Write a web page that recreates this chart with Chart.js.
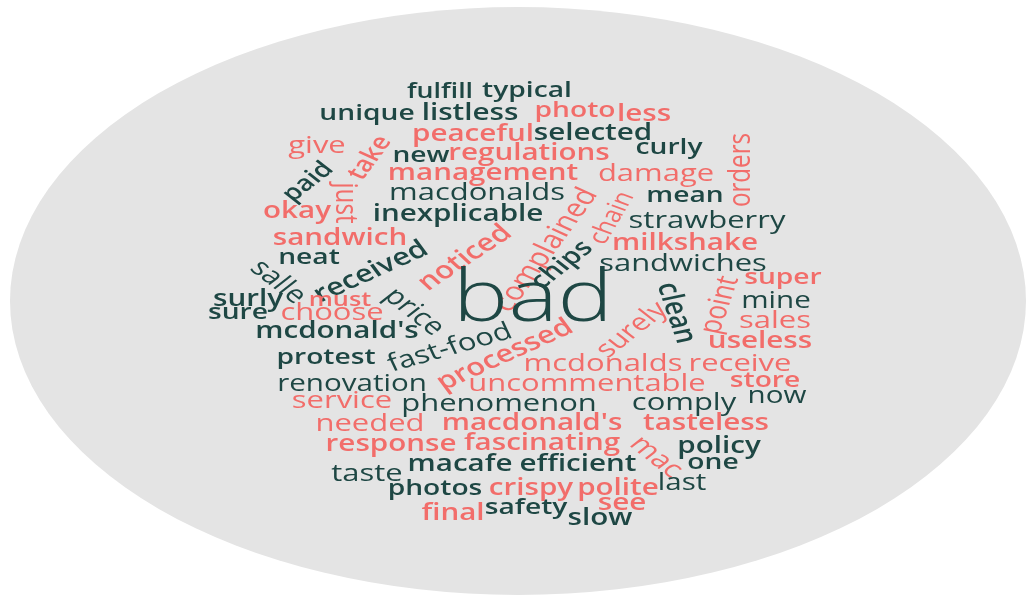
<!DOCTYPE html>
<html lang="en">
<head>
<meta charset="UTF-8">
<title>Word cloud</title>
<script src="https://cdn.jsdelivr.net/npm/chart.js@4.4.1/dist/chart.umd.min.js"></script>
<style>
    body { margin: 0; background: #ffffff; }
    #wrap { width: 1026px; height: 604px; }
</style>
</head>
<body>
<div id="wrap"><canvas id="cloud" width="1026" height="604"></canvas></div>

<script>
// words of the cloud
const words = [
    'fulfill', 'typical', 'unique', 'listless', 'photo', 'less', 'peaceful', 'selected',
    'give', 'take', 'new', 'regulations', 'curly', 'orders', 'paid', 'just',
    'management', 'damage', 'macdonalds', 'mean', 'okay', 'inexplicable', 'complained', 'chain',
    'strawberry', 'sandwich', 'milkshake', 'neat', 'received', 'noticed', 'chips', 'sandwiches',
    'salle', 'super', 'bad', 'surly', 'must', 'price', 'clean', 'point',
    'mine', 'sure', 'choose', 'surely', 'sales', "mcdonald's", 'fast-food', 'processed',
    'useless', 'protest', 'mcdonalds', 'receive', 'renovation', 'uncommentable', 'store', 'now',
    'service', 'phenomenon', 'comply', 'needed', "macdonald's", 'tasteless', 'response', 'fascinating',
    'mac', 'policy', 'taste', 'macafe', 'efficient', 'one', 'photos', 'crispy',
    'polite', 'last', 'final', 'safety', 'see', 'slow'
];

// placement of each word in the cloud (x, y)
const wordX = [
    440, 527, 367, 470, 575, 644, 473, 593,
    317, 370, 421, 529, 669, 741, 308, 345,
    483, 656, 477, 685, 297, 458, 546, 612,
    707, 340, 685, 309, 371, 465, 562, 683,
    278, 783, 533, 248, 340, 414, 676, 720,
    776, 238, 332, 632, 775, 337, 450, 505,
    760, 326, 603, 740, 352, 587, 765, 777,
    342, 499, 684, 370, 532, 706, 391, 542,
    656, 719, 367, 460, 578, 713, 435, 531,
    618, 682, 453, 526, 622, 600
];
const wordY = [
    92, 91, 114, 113, 111, 114, 134, 133,
    146, 158, 156, 153, 148, 170, 182, 203,
    173, 174, 193, 196, 211, 214, 250, 218,
    221, 238, 243, 258, 272, 258, 265, 264,
    282, 278, 300, 299, 300, 312, 313, 305,
    301, 313, 313, 330, 321, 331, 348, 355,
    341, 358, 364, 364, 384, 384, 381, 396,
    401, 404, 403, 424, 423, 423, 444, 443,
    457, 446, 474, 464, 464, 463, 489, 488,
    488, 483, 513, 508, 503, 518
];

// weight of each word (drives the font size)
const wordFreq = [
    19, 20, 20, 21, 20, 21, 21, 21,
    22, 20, 20, 21, 20, 22, 20, 22,
    21, 22, 22, 20, 21, 21, 23, 20,
    22, 21, 21, 20, 22, 22, 21, 22,
    22, 20, 66, 21, 18, 22, 22, 22,
    21, 20, 22, 22, 22, 21, 22, 22,
    21, 20, 22, 22, 21, 22, 20, 21,
    22, 22, 22, 22, 21, 21, 21, 21,
    22, 21, 22, 21, 21, 20, 20, 21,
    21, 21, 21, 20, 21, 21
];

// colour group: 0 = dark, 1 = salmon
const wordGroup = [
    0, 0, 0, 0, 1, 1, 1, 0,
    1, 1, 0, 1, 0, 1, 0, 1,
    1, 1, 0, 0, 1, 0, 1, 1,
    0, 1, 1, 0, 0, 1, 0, 0,
    0, 1, 0, 0, 1, 0, 0, 1,
    0, 0, 1, 1, 1, 0, 0, 1,
    1, 0, 1, 1, 0, 1, 1, 0,
    1, 0, 0, 1, 1, 1, 1, 1,
    1, 0, 0, 0, 0, 0, 0, 1,
    1, 0, 1, 0, 1, 0
];

// rotation of each word, degrees
const wordAngle = [
    0, 0, 0, 0, 0, 0, 0, 0,
    0, -60, 0, 0, 0, -90, -45, 90,
    0, 0, 0, 0, 0, 0, -60, -65,
    0, 0, 0, 0, -30, -40, -45, 0,
    45, 0, 0, 0, 0, 45, 75, -75,
    0, 0, 0, -45, 0, 0, -20, -30,
    0, 0, 0, 0, 0, 0, 0, 0,
    0, 0, 0, 0, 0, 0, 0, 0,
    45, 0, 0, 0, 0, 0, 0, 0,
    0, 0, 0, 0, 0, 0
];

// stroke tier: 0 = light, 1 = regular, 2 = strong
const wordTier = [
    2, 2, 2, 2, 2, 2, 2, 2,
    1, 2, 2, 2, 2, 1, 2, 1,
    2, 1, 1, 2, 2, 2, 1, 1,
    1, 2, 2, 2, 2, 2, 2, 1,
    1, 2, 0, 2, 2, 1, 2, 1,
    1, 2, 1, 1, 1, 2, 1, 2,
    2, 2, 1, 1, 1, 1, 2, 1,
    1, 1, 1, 1, 2, 2, 2, 2,
    1, 2, 1, 2, 2, 2, 2, 2,
    2, 1, 2, 2, 2, 2
];

const colours = ['#1e4744', '#f26d6a'];
const tierWeight = [300, 400, 600];

// grey oval behind the words + the words themselves
const cloudPlugin = {
    id: 'cloud',
    beforeDatasetsDraw(chart, args, opts) {
        const ctx = chart.ctx;
        const x = chart.scales.x, y = chart.scales.y;
        const cx = x.getPixelForValue(opts.oval.cx);
        const cy = y.getPixelForValue(opts.oval.cy);
        const rx = Math.abs(x.getPixelForValue(opts.oval.cx + opts.oval.rx) - cx);
        const ry = Math.abs(y.getPixelForValue(opts.oval.cy + opts.oval.ry) - cy);
        ctx.save();
        ctx.fillStyle = opts.oval.color;
        ctx.beginPath();
        ctx.ellipse(cx, cy, rx, ry, 0, 0, Math.PI * 2);
        ctx.fill();
        ctx.restore();
    },
    afterDatasetsDraw(chart, args, opts) {
        const ctx = chart.ctx;
        const meta = chart.getDatasetMeta(0);
        meta.data.forEach(function (pt, i) {
            ctx.save();
            ctx.translate(pt.x, pt.y);
            ctx.scale(opts.stretch, 1);
            ctx.rotate(wordAngle[i] * Math.PI / 180);
            const px = (wordFreq[i] * opts.fontScale).toFixed(1);
            ctx.font = tierWeight[wordTier[i]] + ' ' + px + 'px "Open Sans"';
            ctx.fillStyle = colours[wordGroup[i]];
            ctx.textAlign = 'center';
            ctx.textBaseline = 'middle';
            ctx.fillText(words[i], 0, 0);
            ctx.restore();
        });
    }
};

function drawCloud() {
    new Chart(document.getElementById('cloud'), {
        type: 'scatter',
        data: {
            datasets: [{
                label: 'words',
                data: words.map((w, i) => ({ x: wordX[i], y: wordY[i] })),
                pointRadius: 0,
                pointHoverRadius: 0
            }]
        },
        options: {
            responsive: false,
            animation: false,
            layout: { padding: 0 },
            scales: {
                x: { type: 'linear', min: 0, max: 1026, display: false },
                y: { type: 'linear', min: 0, max: 604, reverse: true, display: false }
            },
            plugins: {
                legend: { display: false },
                tooltip: { enabled: false },
                cloud: {
                    stretch: 1.28,
                    fontScale: 1.1,
                    oval: { cx: 518, cy: 301, rx: 508, ry: 294, color: '#e4e4e4' }
                }
            }
        },
        plugins: [cloudPlugin]
    });
}

Promise.all([
    document.fonts.load('300 20px "Open Sans"'),
    document.fonts.load('400 20px "Open Sans"'),
    document.fonts.load('600 20px "Open Sans"')
]).then(drawCloud, drawCloud);
</script>
</body>
</html>
